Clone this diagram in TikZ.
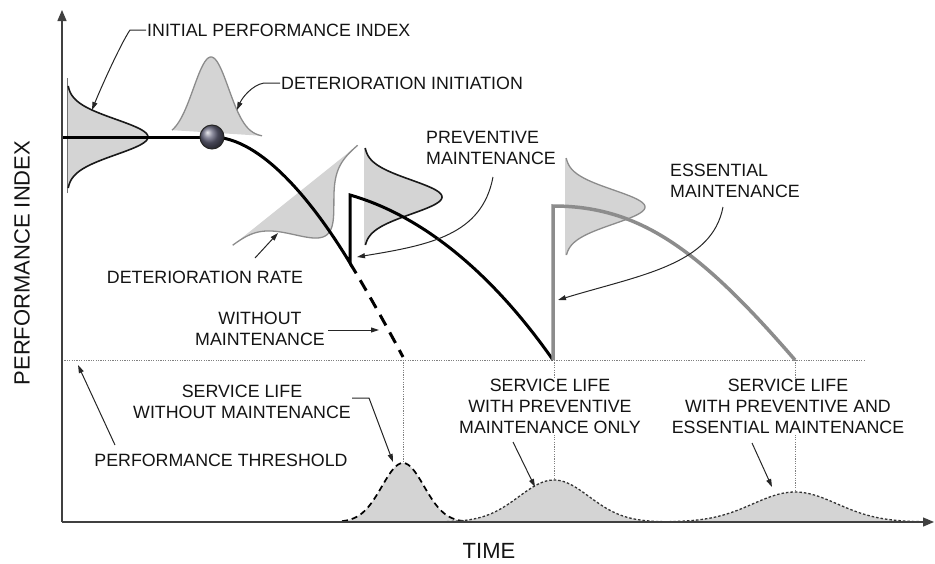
\documentclass[tikz,border=0pt]{standalone}
\usepackage{fontspec}
\setmainfont{Liberation Sans}
\usetikzlibrary{arrows.meta}
\begin{document}
\begin{tikzpicture}[x=1pt,y=-1pt,
  txt/.style={font=\fontsize{17.8}{21}\selectfont, text=black!92, inner sep=1pt},
  axlbl/.style={font=\fontsize{22}{26}\selectfont, text=black!92, inner sep=0pt},
  axisline/.style={line width=1.3pt, draw=black!75, -{Triangle[length=11pt,width=9pt]}},
  lead/.style={line width=1pt, draw=black!85, -{Triangle[length=8pt,width=5pt]}},
  distfill/.style={fill=black!17},
  blackout/.style={draw=black!90, line width=1.6pt},
  grayout/.style={draw=black!45, line width=1.3pt},
  maincurve/.style={draw=black, line width=3pt},
  graycurve/.style={draw=black!45, line width=3.5pt},
  thr/.style={draw=black!50, line width=0.9pt, dash pattern=on 1.2pt off 1.2pt},
  lifebell/.style={draw=black!80, line width=1.3pt, dash pattern=on 2.5pt off 2pt},
]
\useasboundingbox (0,0) rectangle (935,563);

% threshold and vertical dotted lines
\draw[thr] (62,360) -- (865,360);
\draw[thr] (403,360) -- (403,522);
\draw[thr] (554,360) -- (554,522);
\draw[thr] (795,360) -- (795,522);

% initial performance distribution
\fill[distfill] (67,80) -- plot[domain=80:193,samples=90] ({67+81*exp(-0.5*((\x-137)/17.6)^2)},\x) -- (67,193) -- cycle;
\draw[black!55, line width=1pt] (67,78) -- (67,193);
\draw[blackout] plot[domain=86:188,samples=90] ({67+81*exp(-0.5*((\x-137)/17.6)^2)},\x);

% deterioration initiation distribution
\fill[distfill] plot[domain=172:262,samples=80] (\x,{137-80*exp(-0.5*((\x-211)/17.6)^2)}) -- cycle;
\draw[grayout] plot[domain=172:262,samples=80] (\x,{137-80*exp(-0.5*((\x-211)/17.6)^2)});

% deterioration rate distribution (tilted)
\fill[distfill] plot[domain=-80:80,samples=90] ({295+0.781*\x+0.625*51*exp(-0.5*(\x/25)^2)},{195-0.625*\x+0.781*51*exp(-0.5*(\x/25)^2)}) -- cycle;
\draw[grayout] plot[domain=-80:80,samples=90] ({295+0.781*\x+0.625*51*exp(-0.5*(\x/25)^2)},{195-0.625*\x+0.781*51*exp(-0.5*(\x/25)^2)});

% preventive distribution
\fill[distfill] (364,148) -- plot[domain=148:245,samples=80] ({364+78*exp(-0.5*((\x-197)/17)^2)},\x) -- (364,245) -- cycle;
\draw[blackout] plot[domain=148:245,samples=80] ({364+78*exp(-0.5*((\x-197)/17)^2)},\x);

% essential distribution
\fill[distfill] (565,158) -- plot[domain=158:255,samples=80] ({565+80*exp(-0.5*((\x-207)/17)^2)},\x) -- (565,255) -- cycle;
\draw[grayout] plot[domain=158:255,samples=80] ({565+80*exp(-0.5*((\x-207)/17)^2)},\x);

% performance profiles
\draw[maincurve] (62,137) -- (212,137);
\draw[maincurve, line join=miter] (212,137) .. controls (262,137) and (315,205) .. (350,263) -- (350,195)
   .. controls (420,215) and (490,270) .. (553,360);
\draw[maincurve, dash pattern=on 12pt off 8pt] (350,263) .. controls (368,293) and (386,325) .. (403,357);
\draw[graycurve, line join=miter] (553,360) -- (553,206) .. controls (640,206) and (700,250) .. (795,360);
\node[circle, draw=black!85, line width=1pt, ball color=blue!15!black!60, minimum size=24pt, inner sep=0pt] (ball) at (212,137) {};

% service life distributions
\fill[distfill] plot[domain=342:466,samples=80] (\x,{522-59*exp(-0.5*((\x-403)/21)^2)}) -- cycle;
\draw[black, line width=1.7pt, dash pattern=on 6pt off 4pt] plot[domain=342:466,samples=80] (\x,{522-59*exp(-0.5*((\x-403)/21)^2)});
\fill[distfill] plot[domain=447:665,samples=90] (\x,{522-42*exp(-0.5*((\x-554)/35)^2)}) -- cycle;
\draw[lifebell] plot[domain=447:665,samples=90] (\x,{522-42*exp(-0.5*((\x-554)/35)^2)});
\fill[distfill] plot[domain=660:925,samples=90] (\x,{522-30*exp(-0.5*((\x-795)/42)^2)}) -- cycle;
\draw[lifebell] plot[domain=660:925,samples=90] (\x,{522-30*exp(-0.5*((\x-795)/42)^2)});

% axes
\coordinate (origin) at (62,522);
\coordinate (ytop) at (62,10);
\coordinate (xend) at (934,522);
\draw[axisline] (origin) -- (ytop);
\draw[axisline] (origin) -- (xend);

% axis labels
\node[axlbl, rotate=90] (ylab) at (22,263) {PERFORMANCE INDEX};
\node[axlbl] (xlab) at (489,551) {TIME};

% labels
\node[txt, anchor=west] (ipi) at (146,30) {INITIAL PERFORMANCE INDEX};
\node[txt, anchor=west] (dinit) at (280,83) {DETERIORATION INITIATION};
\node[txt, align=left, anchor=west] (prev) at (425,147.5) {PREVENTIVE\\MAINTENANCE};
\node[txt, align=left, anchor=west] (ess) at (669,180.5) {ESSENTIAL\\MAINTENANCE};
\node[txt] (drate) at (205,277) {DETERIORATION RATE};
\node[txt, align=center] (wom) at (260,328.5) {WITHOUT\\MAINTENANCE};
\node[txt] (pth) at (221,460) {PERFORMANCE THRESHOLD};
\node[txt, align=center] (sl1) at (242,402) {SERVICE LIFE\\WITHOUT MAINTENANCE};
\node[txt, align=center, fill=white] (sl2) at (550,406.5) {SERVICE LIFE\\WITH PREVENTIVE\\MAINTENANCE ONLY};
\node[txt, align=center, fill=white] (sl3) at (788,406.5) {SERVICE LIFE\\WITH PREVENTIVE AND\\ESSENTIAL MAINTENANCE};

% arrow targets
\coordinate (ipiT) at (92,110);
\coordinate (dinitT) at (237,110);
\coordinate (drateT) at (278,233);
\coordinate (prevT) at (357,257);
\coordinate (essT) at (558,300);
\coordinate (womT) at (379,330);
\coordinate (pthT) at (78,365);
\coordinate (sl1T) at (393,462);
\coordinate (sl2T) at (535,487);
\coordinate (sl3T) at (772,487);

% leaders
\draw[lead] (ipi.west) -- (130,30) .. controls (120,45) and (100,90) .. (ipiT);
\draw[lead] (dinit.west) -- (264,83) .. controls (252,85) and (242,98) .. (dinitT);
\draw[lead] (255,258) -- (drateT);
\draw[lead] (493,177) .. controls (482,235) and (430,245) .. (prevT);
\draw[lead] (723,207) .. controls (712,265) and (640,275) .. (essT);
\draw[lead] (328,330) -- (womT);
\draw[lead] (115,445) -- (pthT);
\draw[lead] (352,398) -- (369,398) -- (sl1T);
\draw[lead] (513,442) -- (sl2T);
\draw[lead] (752,443) -- (sl3T);
\end{tikzpicture}
\end{document}
